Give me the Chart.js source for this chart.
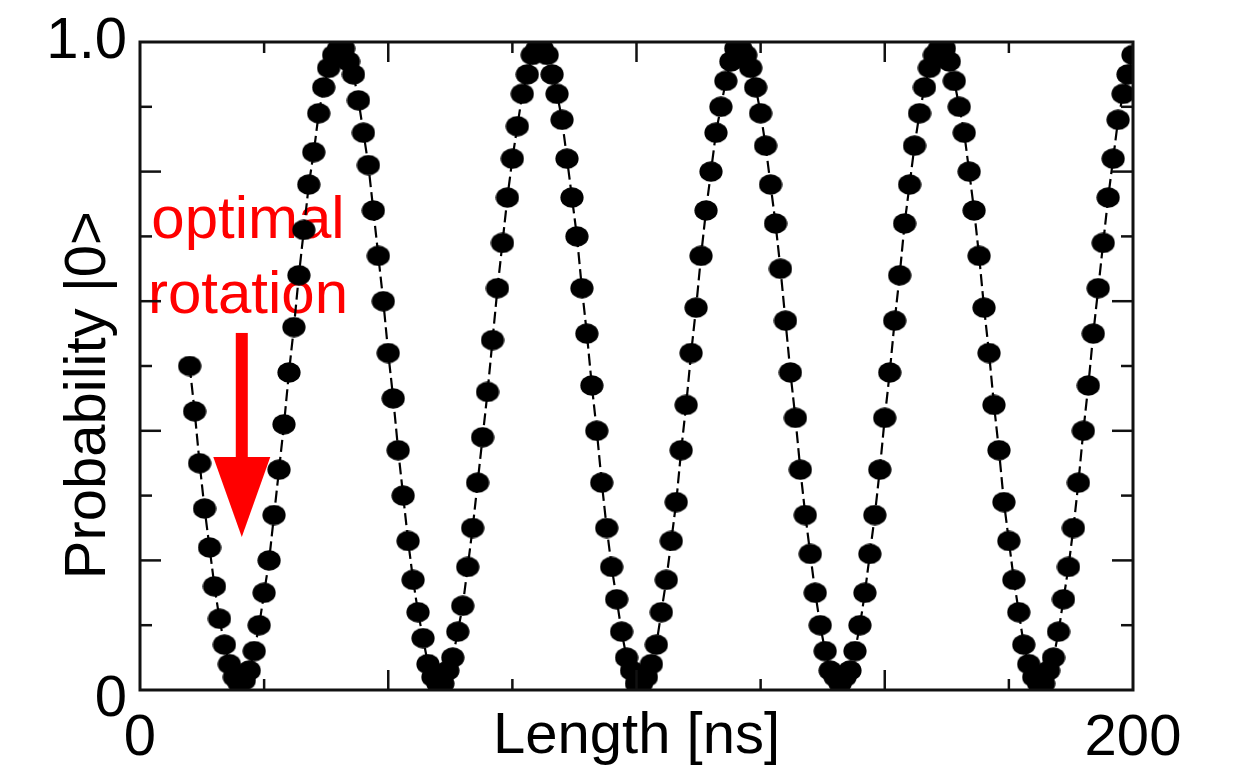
<!DOCTYPE html>
<html>
<head>
<meta charset="utf-8">
<script src="https://cdn.jsdelivr.net/npm/chart.js@4.4.0/dist/chart.umd.min.js"></script>
<style>
html,body{margin:0;padding:0;background:#fff;}
#wrap{width:1235px;height:767px;position:relative;}
</style>
</head>
<body>
<div id="wrap"><canvas id="c" width="1235" height="767"></canvas></div>
<script>
// ---- data ----
const lengthNs = [
 10,11,12,13,14,15,16,17,18,19,
 20,21,22,23,24,25,26,27,28,29,
 30,31,32,33,34,35,36,37,38,39,
 40,41,42,43,44,45,46,47,48,49,
 50,51,52,53,54,55,56,57,58,59,
 60,61,62,63,64,65,66,67,68,69,
 70,71,72,73,74,75,76,77,78,79,
 80,81,82,83,84,85,86,87,88,89,
 90,91,92,93,94,95,96,97,98,99,
 100,101,102,103,104,105,106,107,108,109,
 110,111,112,113,114,115,116,117,118,119,
 120,121,122,123,124,125,126,127,128,129,
 130,131,132,133,134,135,136,137,138,139,
 140,141,142,143,144,145,146,147,148,149,
 150,151,152,153,154,155,156,157,158,159,
 160,161,162,163,164,165,166,167,168,169,
 170,171,172,173,174,175,176,177,178,179,
 180,181,182,183,184,185,186,187,188,189,
 190,191,192,193,194,195,196,197,198,199,
 200
];
const probability0 = [
 0.50,0.43,0.35,0.28,0.22,0.16,0.11,0.07,0.04,0.02,
 0.01,0.015,0.03,0.06,0.10,0.15,0.20,0.27,0.34,0.41,
 0.49,0.56,0.64,0.71,0.78,0.83,0.89,0.93,0.96,0.98,
 0.99,0.99,0.97,0.95,0.91,0.86,0.81,0.74,0.67,0.60,
 0.52,0.45,0.37,0.30,0.23,0.17,0.12,0.08,0.04,0.02,
 0.01,0.01,0.03,0.05,0.09,0.13,0.19,0.25,0.32,0.39,
 0.46,0.54,0.62,0.69,0.76,0.82,0.87,0.92,0.95,0.98,
 0.99,0.99,0.98,0.95,0.92,0.88,0.82,0.76,0.70,0.62,
 0.55,0.47,0.40,0.32,0.25,0.19,0.14,0.09,0.05,0.03,
 0.01,0.01,0.02,0.04,0.07,0.12,0.17,0.23,0.29,0.37,
 0.44,0.52,0.59,0.67,0.74,0.80,0.86,0.90,0.94,0.97,
 0.99,0.99,0.98,0.96,0.93,0.89,0.84,0.78,0.72,0.65,
 0.57,0.49,0.42,0.34,0.27,0.21,0.15,0.10,0.06,0.03,
 0.02,0.01,0.02,0.03,0.06,0.10,0.15,0.21,0.27,0.34,
 0.42,0.49,0.57,0.64,0.72,0.78,0.84,0.89,0.93,0.96,
 0.98,0.99,0.99,0.97,0.94,0.90,0.86,0.80,0.74,0.67,
 0.59,0.52,0.44,0.37,0.29,0.23,0.17,0.12,0.07,0.04,
 0.02,0.01,0.01,0.03,0.05,0.09,0.14,0.19,0.25,0.32,
 0.40,0.47,0.55,0.62,0.69,0.76,0.82,0.88,0.92,0.95,
 0.98
];
const xTickValues = [0, 200];
const xTickLabels = ['0', '200'];
const yTickValues = [0, 1];
const yTickLabels = ['0', '1.0'];
const xMajorTicks = [50, 100, 150];
const xMinorTicks = [25, 75, 125, 175];
const yMajorTicks = [0.2, 0.4, 0.6, 0.8];
const yMinorTicks = [0.1, 0.3, 0.5, 0.7, 0.9];
const xTitle = 'Length [ns]';
const yTitle = 'Probability |0>';
const noteLines = ['optimal', 'rotation'];
// annotation anchor in data units: [ns, probability]
const noteAnchor = { x: 21.75, line1: 0.697, line2: 0.582 };
const arrowData = { x: 20.5, top: 0.551, headBase: 0.3596, tip: 0.236 };
const yTitleCenter = 0.455; // probability value at the centre of the y title

const FONT = "'Liberation Sans', Arial, Helvetica, sans-serif";
const points = lengthNs.map((t, i) => ({ x: t, y: probability0[i] }));

// slightly wide elliptical dot like the reference
const dot = document.createElement('canvas');
dot.width = 24; dot.height = 21;
(function () {
  const g = dot.getContext('2d');
  g.fillStyle = '#000';
  g.beginPath();
  g.ellipse(12, 10.5, 11.6, 10.2, 0, 0, Math.PI * 2);
  g.fill();
})();

const annotations = {
  id: 'annotations',
  beforeDatasetsDraw(chart) {
    const { ctx, scales: { x, y } } = chart;
    ctx.save();
    ctx.fillStyle = '#ff0000';
    ctx.font = '60px ' + FONT;
    ctx.textAlign = 'center';
    ctx.textBaseline = 'alphabetic';
    const tx = x.getPixelForValue(noteAnchor.x);
    ctx.fillText(noteLines[0], tx, y.getPixelForValue(noteAnchor.line1));
    ctx.fillText(noteLines[1], tx, y.getPixelForValue(noteAnchor.line2));
    const ax = x.getPixelForValue(arrowData.x);
    const aTop = y.getPixelForValue(arrowData.top);
    const aBase = y.getPixelForValue(arrowData.headBase);
    const aTip = y.getPixelForValue(arrowData.tip);
    ctx.fillRect(ax - 6, aTop, 12, aBase - aTop + 1);
    ctx.beginPath();
    ctx.moveTo(ax - 28.5, aBase);
    ctx.lineTo(ax + 28.5, aBase);
    ctx.lineTo(ax, aTip);
    ctx.closePath();
    ctx.fill();
    ctx.restore();
  }
};

const frame = {
  id: 'frame',
  afterDatasetsDraw(chart) {
    const { ctx, chartArea: a, scales: { x, y } } = chart;
    ctx.save();
    ctx.strokeStyle = '#111';
    ctx.lineCap = 'butt';
    const seg = (x1, y1, x2, y2) => { ctx.beginPath(); ctx.moveTo(x1, y1); ctx.lineTo(x2, y2); ctx.stroke(); };
    ctx.lineWidth = 2.5;
    xMajorTicks.forEach(v => { const p = x.getPixelForValue(v); seg(p, a.bottom, p, a.bottom - 20); seg(p, a.top, p, a.top + 20); });
    xMinorTicks.forEach(v => { const p = x.getPixelForValue(v); seg(p, a.bottom, p, a.bottom - 11); seg(p, a.top, p, a.top + 11); });
    yMajorTicks.forEach(v => { const p = y.getPixelForValue(v); seg(a.left, p, a.left + 21, p); seg(a.right, p, a.right - 21, p); });
    yMinorTicks.forEach(v => { const p = y.getPixelForValue(v); seg(a.left, p, a.left + 12, p); seg(a.right, p, a.right - 12, p); });
    ctx.lineWidth = 3;
    ctx.strokeRect(a.left, a.top, a.right - a.left, a.bottom - a.top);
    // y tick labels
    ctx.fillStyle = '#000';
    ctx.font = '58px ' + FONT;
    ctx.textAlign = 'right';
    ctx.textBaseline = 'middle';
    yTickValues.forEach((v, i) => {
      const off = v === 0 ? 10 : 0;
      ctx.fillText(yTickLabels[i], a.left - 13, y.getPixelForValue(v) + off);
    });
    // y title (rotated)
    ctx.save();
    ctx.translate(105, y.getPixelForValue(yTitleCenter));
    ctx.rotate(-Math.PI / 2);
    ctx.textAlign = 'center';
    ctx.textBaseline = 'alphabetic';
    ctx.fillText(yTitle, 0, 0);
    ctx.restore();
    ctx.restore();
  }
};

new Chart(document.getElementById('c'), {
  type: 'scatter',
  data: {
    datasets: [{
      data: points,
      showLine: true,
      borderColor: '#000',
      borderWidth: 2.2,
      borderDash: [12, 5],
      backgroundColor: '#000',
      pointBackgroundColor: '#000',
      pointBorderColor: '#000',
      pointBorderWidth: 0,
      pointStyle: dot,
      pointRadius: 11,
      pointHoverRadius: 11,
      tension: 0,
      clip: 0
    }]
  },
  options: {
    responsive: false,
    animation: false,
    events: [],
    layout: { padding: { top: 42, right: 102, left: 0, bottom: 0 } },
    plugins: { legend: { display: false }, tooltip: { enabled: false } },
    scales: {
      x: {
        type: 'linear',
        min: 0, max: 200,
        afterBuildTicks: s => { s.ticks = xTickValues.map(v => ({ value: v })); },
        afterFit: s => { s.height = 77; },
        grid: { display: false, drawTicks: false },
        border: { display: false },
        ticks: {
          autoSkip: false,
          maxRotation: 0,
          padding: 14,
          color: '#000',
          font: { family: FONT, size: 58 },
          callback: (v) => { const i = xTickValues.indexOf(v); return i >= 0 ? xTickLabels[i] : ''; }
        },
        title: {
          display: true,
          text: xTitle,
          color: '#000',
          font: { family: FONT, size: 58 },
          padding: { top: 0, bottom: -5 }
        }
      },
      y: {
        type: 'linear',
        min: 0, max: 1,
        afterFit: s => { s.width = 140; },
        grid: { display: false, drawTicks: false },
        border: { display: false },
        ticks: { display: false },
        title: { display: false }
      }
    }
  },
  plugins: [annotations, frame]
});
</script>
</body>
</html>
